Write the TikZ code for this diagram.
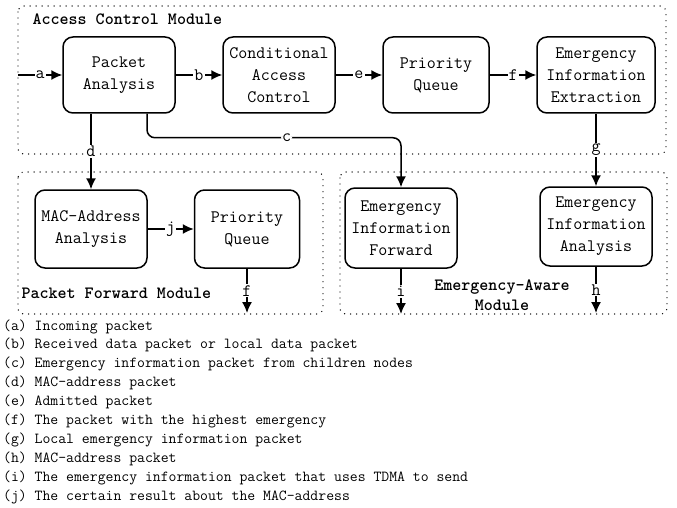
\documentclass[tikz,border=0pt]{standalone}
\renewcommand{\familydefault}{\ttdefault}
\usetikzlibrary{arrows.meta,calc}

\tikzset{
  block/.style={draw, line width=1.5pt, rounded corners=10pt, minimum width=112pt,
    minimum height=76pt, align=center, font=\fontsize{17.5}{22}\selectfont},
  module/.style={line width=1.4pt, dash pattern=on 0pt off 6pt, line cap=round, rounded corners=6pt},
  flow/.style={line width=1.5pt, -{Latex[length=11pt,width=10pt]}},
  lbl/.style={fill=white, inner sep=1pt, font=\fontsize{17.5}{18}\selectfont},
  title/.style={font=\bfseries\fontsize{17.2}{20}\selectfont},
  legend/.style={font=\fontsize{15.3}{17}\selectfont, inner sep=0pt, anchor=west,
    text height=11pt, text depth=4pt},
}

\begin{document}
\begin{tikzpicture}[x=1pt,y=-1pt]
\useasboundingbox (0,0) rectangle (677,508);

% modules
\draw[module] (18,6) rectangle (666,154);
\draw[module] (18,172) rectangle (323,314);
\draw[module] (340,172) rectangle (667,314);
\node[title, anchor=west] (acm) at (29,19) {Access Control Module};
\node[title, anchor=west] (pfm) at (18,293) {Packet Forward Module};
\node[title, align=center] (eam) at (502,295) {Emergency-Aware\\Module};

% blocks
\node[block] (pa) at (119,75) {Packet\\Analysis};
\node[block] (cac) at (279,75) {Conditional\\Access\\Control};
\node[block, minimum width=106pt] (pq) at (436,75) {Priority\\Queue};
\node[block, minimum width=118pt] (eie) at (596,75) {Emergency\\Information\\Extraction};
\node[block, minimum height=78pt] (mac) at (91,229) {MAC-Address\\Analysis};
\node[block, minimum width=105pt, minimum height=78pt] (pq2) at (247,229) {Priority\\Queue};
\node[block, minimum height=80pt] (eif) at (401,228) {Emergency\\Information\\Forward};
\node[block, minimum height=79pt] (eia) at (596,226.5) {Emergency\\Information\\Analysis};

% free ends
\coordinate (in) at (18,75);
\coordinate (pfout) at (247,313);
\coordinate (iout) at (401,314);
\coordinate (hout) at (596,313);
\coordinate (cbend) at ($(pa.south)+(28,24)$);

% connectors
\draw[flow] (in) -- node[lbl]{a} (pa);
\draw[flow] (pa) -- node[lbl]{b} (cac);
\draw[flow] (cac) -- node[lbl]{e} (pq);
\draw[flow] (pq) -- node[lbl]{f} (eie);
\draw[flow] (pa.south -| mac.north) -- node[lbl]{d} (mac.north);
\draw[flow, rounded corners=8pt] (pa.south -| cbend) -- (cbend)
  -- node[lbl, pos=0.55]{c} (cbend -| eif.north) -- (eif.north);
\draw[flow] (eie) -- node[lbl]{g} (eia);
\draw[flow] (mac) -- node[lbl]{j} (pq2);
\draw[flow] (pq2) -- node[lbl]{f} (pfout);
\draw[flow] (eif) -- node[lbl]{i} (iout);
\draw[flow] (eia) -- node[lbl]{h} (hout);

% legend
\foreach \k/\t [count=\n from 0] in {
  a/Incoming packet,
  b/Received data packet or local data packet,
  c/Emergency information packet from children nodes,
  d/MAC-address packet,
  e/Admitted packet,
  f/The packet with the highest emergency,
  g/Local emergency information packet,
  h/MAC-address packet,
  i/The emergency information packet that uses TDMA to send,
  j/The certain result about the MAC-address}
  \node[legend] (leg\k) at (3,326.5+18.9*\n) {(\k) \t};
\end{tikzpicture}
\end{document}
